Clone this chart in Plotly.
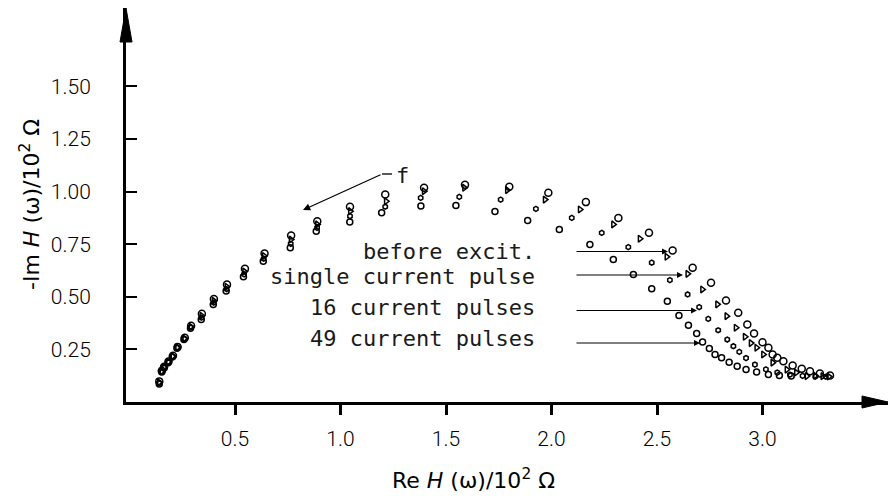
import plotly.graph_objects as go

# ---------------- data ----------------
before_x = [0.141, 0.153, 0.164, 0.185, 0.206, 0.228, 0.262, 0.292, 0.343, 0.400, 0.462, 0.547, 0.640, 0.766, 0.890,
            1.045, 1.212, 1.396, 1.590, 1.800, 1.985, 2.163, 2.317, 2.462, 2.574, 2.669, 2.756, 2.827, 2.885, 2.928,
            2.960, 3.000, 3.028, 3.048, 3.070, 3.099, 3.143, 3.186, 3.225, 3.272, 3.320]
before_y = [0.098, 0.148, 0.168, 0.193, 0.220, 0.262, 0.305, 0.362, 0.419, 0.490, 0.558, 0.633, 0.706, 0.791, 0.859,
            0.928, 0.986, 1.018, 1.033, 1.023, 0.994, 0.950, 0.875, 0.804, 0.720, 0.638, 0.567, 0.482, 0.424, 0.368,
            0.326, 0.284, 0.258, 0.226, 0.210, 0.194, 0.173, 0.158, 0.146, 0.135, 0.126]

single_x = [0.141, 0.153, 0.164, 0.184, 0.205, 0.227, 0.261, 0.291, 0.342, 0.400, 0.461, 0.545, 0.638, 0.765, 0.890,
            1.046, 1.216, 1.396, 1.587, 1.790, 1.969, 2.135, 2.293, 2.419, 2.546, 2.645, 2.715, 2.786, 2.830, 2.874,
            2.917, 2.945, 2.972, 3.004, 3.048, 3.115, 3.160, 3.210, 3.250, 3.285, 3.315]
single_y = [0.094, 0.146, 0.166, 0.191, 0.218, 0.260, 0.302, 0.358, 0.410, 0.481, 0.548, 0.620, 0.694, 0.772, 0.844,
            0.907, 0.954, 1.002, 1.018, 1.007, 0.962, 0.915, 0.844, 0.776, 0.690, 0.609, 0.535, 0.464, 0.408, 0.353,
            0.310, 0.280, 0.258, 0.226, 0.187, 0.154, 0.140, 0.123, 0.125, 0.123, 0.121]

p16_x = [0.141, 0.153, 0.164, 0.184, 0.204, 0.226, 0.260, 0.290, 0.341, 0.399, 0.460, 0.543, 0.636, 0.764, 0.889,
         1.045, 1.212, 1.380, 1.563, 1.759, 1.926, 2.096, 2.238, 2.364, 2.475, 2.561, 2.645, 2.700, 2.743, 2.790,
         2.833, 2.862, 2.890, 2.922, 2.964, 3.016, 3.070, 3.130, 3.190, 3.250, 3.300]
p16_y = [0.090, 0.144, 0.164, 0.189, 0.216, 0.258, 0.300, 0.355, 0.401, 0.472, 0.537, 0.607, 0.681, 0.752, 0.828,
         0.883, 0.928, 0.970, 0.975, 0.962, 0.918, 0.875, 0.804, 0.736, 0.662, 0.579, 0.511, 0.451, 0.395, 0.341,
         0.297, 0.265, 0.238, 0.209, 0.178, 0.155, 0.140, 0.130, 0.124, 0.121, 0.120]

p49_x = [0.141, 0.153, 0.164, 0.183, 0.203, 0.225, 0.258, 0.289, 0.340, 0.397, 0.458, 0.540, 0.634, 0.762, 0.885,
         1.044, 1.195, 1.381, 1.547, 1.732, 1.887, 2.037, 2.182, 2.293, 2.388, 2.475, 2.549, 2.604, 2.649, 2.688,
         2.716, 2.748, 2.775, 2.806, 2.842, 2.880, 2.922, 2.972, 3.028, 3.080, 3.136]
p49_y = [0.086, 0.142, 0.162, 0.187, 0.214, 0.256, 0.297, 0.350, 0.392, 0.463, 0.527, 0.595, 0.669, 0.733, 0.812,
         0.855, 0.899, 0.931, 0.934, 0.905, 0.863, 0.820, 0.749, 0.677, 0.606, 0.538, 0.479, 0.411, 0.365, 0.326,
         0.285, 0.254, 0.226, 0.210, 0.189, 0.170, 0.155, 0.142, 0.131, 0.126, 0.123]

series_names = ["before excit.", "single current pulse", "16 current pulses", "49 current pulses"]

x_tickvals = [0.5, 1.0, 1.5, 2.0, 2.5, 3.0]
x_ticktext = ["0.5", "1.0", "1.5", "2.0", "2.5", "3.0"]
y_tickvals = [0.25, 0.50, 0.75, 1.00, 1.25, 1.50]
y_ticktext = ["0.25", "0.50", "0.75", "1.00", "1.25", "1.50"]

# ---------------- layout geometry ----------------
W, H = 890, 496
L, R, T, B = 126, 2, 8, 94
PW, PH = W - L - R, H - T - B
X0_PX, PX_PER_X = 129.5, 211.0
PX_PER_Y = 210.4
x_range = [(L - X0_PX) / PX_PER_X, (W - R - X0_PX) / PX_PER_X]
y_range = [0, PH / PX_PER_Y]


def px(xp):
    return (xp - L) / PW


def py(yp):
    return (H - B - yp) / PH


TICKFONT = dict(family="Roboto", size=21, color="black", weight=300)
TEXTFONT = dict(family="DejaVu Sans Mono", size=22, color="#1a1a1a")
TITLEFONT = dict(family="DejaVu Sans", size=22, color="black")

fig = go.Figure()
styles = [
    (before_x, before_y, "circle-open", 7),
    (single_x, single_y, "triangle-right-open", 6),
    (p16_x, p16_y, "hexagon-open", 5),
    (p49_x, p49_y, "circle-open", 6),
]
for name, (xs, ys, sym, sz) in zip(series_names, styles):
    fig.add_trace(go.Scatter(
        x=xs, y=ys, mode="markers", name=name, showlegend=False,
        marker=dict(symbol=sym, size=sz, color="black", line=dict(color="black", width=1.5)),
        cliponaxis=False,
    ))

fig.update_layout(
    width=W, height=H,
    margin=dict(l=L, r=R, t=T, b=B, pad=0),
    paper_bgcolor="white", plot_bgcolor="white",
    showlegend=False,
    xaxis=dict(range=x_range, showgrid=False, zeroline=False, showline=True, linewidth=3, linecolor="black",
               ticks="outside", ticklen=10, tickwidth=2.5, tickcolor="black",
               tickvals=x_tickvals, ticktext=x_ticktext, tickfont=TICKFONT, ticklabelstandoff=6),
    yaxis=dict(range=y_range, showgrid=False, zeroline=False, showline=True, linewidth=3, linecolor="black",
               ticks="inside", ticklen=11, tickwidth=2, tickcolor="black",
               tickvals=y_tickvals, ticktext=y_ticktext, tickfont=TICKFONT, ticklabelstandoff=28),
)

shapes = [
    # arrowheads of the axes
    dict(type="path", xref="paper", yref="paper",
         path=f"M {-6/PW} {py(42)} L {6/PW} {py(42)} L 0 1 Z",
         fillcolor="black", line=dict(color="black", width=1)),
    dict(type="path", xref="paper", yref="paper",
         path=f"M {px(862)} {6/PH} L {px(862)} {-6/PH} L 1 0 Z",
         fillcolor="black", line=dict(color="black", width=1)),
    # short horizontal stroke next to "f"
    dict(type="line", xref="paper", yref="paper", x0=px(382), y0=py(174), x1=px(392), y1=py(174),
         line=dict(color="black", width=1.3)),
]
fig.update_layout(shapes=shapes)

ann = []
# axis titles
ann.append(dict(xref="paper", yref="paper", x=px(30), y=py(205), text="-Im <i>H</i> (ω)/10<sup>2</sup> Ω",
                showarrow=False, textangle=-90, font=TITLEFONT, xanchor="center", yanchor="middle"))
ann.append(dict(xref="paper", yref="paper", x=px(473), y=py(479), text="Re <i>H</i> (ω)/10<sup>2</sup> Ω",
                showarrow=False, font=TITLEFONT, xanchor="center", yanchor="middle"))

# series labels and their arrows
label_y_px = [251.5, 276.5, 307.0, 338.0]
arrow_y_px = [251.5, 275.0, 310.5, 343.0]
arrow_tip_px = [668, 683, 697, 700]
for name, ly, ay, tip in zip(series_names, label_y_px, arrow_y_px, arrow_tip_px):
    ann.append(dict(xref="paper", yref="paper", x=px(537), y=py(ly), text=name, showarrow=False,
                    xanchor="right", yanchor="middle", font=TEXTFONT))
    ann.append(dict(xref="paper", yref="paper", x=px(tip), y=py(ay), ax=575 - tip, ay=0,
                    axref="pixel", ayref="pixel", text="", showarrow=True,
                    arrowhead=2, arrowsize=1.2, arrowwidth=1, arrowcolor="black"))

# frequency arrow "f"
ann.append(dict(xref="paper", yref="paper", x=px(303), y=py(210), ax=382 - 303, ay=174 - 210,
                axref="pixel", ayref="pixel", text="", showarrow=True,
                arrowhead=2, arrowsize=1.2, arrowwidth=1.2, arrowcolor="black"))
ann.append(dict(xref="paper", yref="paper", x=px(394), y=py(175), text="f", showarrow=False,
                xanchor="left", yanchor="middle", font=TEXTFONT))

fig.update_layout(annotations=ann)

fig.write_html("out.html")
